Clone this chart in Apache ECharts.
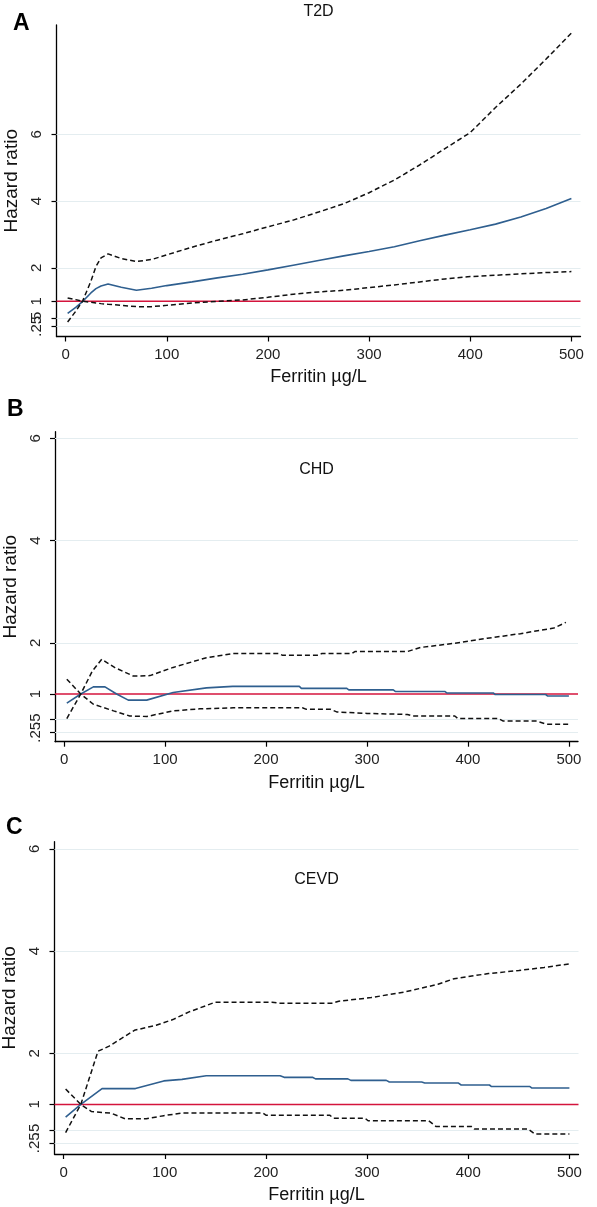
<!DOCTYPE html>
<html>
<head>
<meta charset="utf-8">
<script src="https://cdn.jsdelivr.net/npm/echarts@6/dist/echarts.min.js"></script>
<style>
html,body{margin:0;padding:0;background:#fff;}
#chart{width:597px;height:1207px;}
</style>
</head>
<body>
<div id="chart"></div>
<script>
// ---------- data ----------
const yTicks = [0.25, 0.5, 1, 2, 4, 6];
const yTicksMain = [0.25, 1, 2, 4, 6];   // labels on the main axis
const yTicksExtra = [0.5];               // label drawn on an overlay axis (overlaps ".25" as in the original)
const xTicks = [0, 100, 200, 300, 400, 500];
const panelTitles = ['T2D', 'CHD', 'CEVD'];
const panelLetters = ['A', 'B', 'C'];

// Panel A (T2D)
const xA  = [2,10,17,25,30,35,42,55,70,85,100,125,150,175,200,225,250,275,300,325,350,375,400,425,450,475,500];
const hrA = [0.64,0.82,1.00,1.25,1.38,1.46,1.52,1.42,1.33,1.39,1.47,1.58,1.70,1.81,1.94,2.08,2.22,2.36,2.49,2.63,2.81,2.98,3.14,3.31,3.52,3.78,4.08];
const upA = [0.38,0.70,1.02,1.60,2.04,2.30,2.42,2.28,2.19,2.25,2.39,2.62,2.83,3.02,3.23,3.43,3.67,3.92,4.25,4.63,5.08,5.57,6.05,6.80,7.50,8.25,9.03];
const loA = [1.10,1.05,1.00,0.97,0.95,0.93,0.91,0.88,0.84,0.84,0.88,0.95,1.00,1.04,1.12,1.21,1.28,1.33,1.41,1.49,1.58,1.67,1.74,1.78,1.82,1.86,1.89];

// Panel B (CHD)
const xHrB = [2.7,16.5,29,40.5,52,63.6,81.8,108,141,167,233,235,280,282,326,328,377,379,425,427,477,479,500];
const hrB  = [0.82,1.00,1.14,1.14,1.00,0.88,0.88,1.03,1.12,1.15,1.15,1.11,1.11,1.08,1.08,1.05,1.05,1.02,1.02,0.99,0.99,0.96,0.96];
const xUpB = [2.7,16.5,28,37.3,50,68.6,85,108,141,167,213,216,252,255,285,288,340,353,386,419,452,485,497];
const upB  = [0.52,1.00,1.45,1.68,1.52,1.35,1.36,1.52,1.71,1.79,1.79,1.76,1.76,1.79,1.79,1.83,1.83,1.91,1.99,2.09,2.18,2.29,2.40];
const xLoB = [2.7,16.5,29,49,65,82,108,134.5,167.5,236,240,264,270,300,340,345,387,390,430,435,468,478,500];
const loB  = [1.29,1.00,0.80,0.67,0.57,0.56,0.67,0.71,0.73,0.73,0.70,0.70,0.65,0.62,0.60,0.57,0.57,0.52,0.52,0.47,0.47,0.41,0.41];

// Panel C (CEVD)
const xHrC = [2,17,38,71,99,117,141,214,218,246,249,281,284,319,322,354,357,390,393,421,423,461,463,500];
const hrC  = [0.75,1.00,1.31,1.31,1.46,1.49,1.56,1.56,1.53,1.53,1.50,1.50,1.47,1.47,1.44,1.44,1.42,1.42,1.38,1.38,1.35,1.35,1.32,1.32];
const xUpC = [2,17,26,34,45,58,70,85,91.5,108,124,150,206,213,265,272,304,337,370,386,420,450,475,500];
const upC  = [0.45,1.00,1.55,2.04,2.14,2.30,2.45,2.52,2.55,2.66,2.81,3.00,3.00,2.98,2.98,3.02,3.09,3.20,3.35,3.46,3.56,3.62,3.68,3.75];
const xLoC = [2,17,27.6,46.8,60.7,81.7,99,116.6,197,200,263,267,298,301,361,368,403,406,459,466,500];
const loC  = [1.30,1.00,0.86,0.83,0.72,0.72,0.78,0.83,0.83,0.79,0.79,0.73,0.73,0.68,0.68,0.57,0.57,0.52,0.52,0.42,0.42];

// ---------- layout ----------
const grids = [
  {left: 56.5, top: 25,    width: 524, height: 311.5},
  {left: 55,   top: 431.7, width: 523, height: 310},
  {left: 54.5, top: 841.7, width: 524, height: 312.3}
];
const yRanges = [[-0.054, 9.27], [0.067, 6.13], [0.03, 6.14]];
const titleY = [4, 462, 872];
const letterPos = [[13, 12], [7, 398], [6, 816]];

const pair = (xs, ys) => xs.map((x, i) => [x, ys[i]]);
const panels = [
  {hr: pair(xA, hrA), up: pair(xA, upA), lo: pair(xA, loA)},
  {hr: pair(xHrB, hrB), up: pair(xUpB, upB), lo: pair(xLoB, loB)},
  {hr: pair(xHrC, hrC), up: pair(xUpC, upC), lo: pair(xLoC, loC)}
];

const FONT = 'Liberation Sans, Arial, sans-serif';
const fmtY = v => (v < 1 ? String(v).replace(/^0/, '') : String(v));
const yLabelStyle = {fontFamily: FONT, fontSize: 15, color: '#222', margin: 12, rotate: 90,
                     formatter: fmtY, hideOverlap: false, showMinLabel: true, showMaxLabel: true};

const xAxes = [], yAxes = [], yAxesExtra = [], series = [], titles = [];
grids.forEach((g, i) => {
  xAxes.push({
    type: 'value', gridIndex: i, min: -9, max: 509,
    name: 'Ferritin µg/L', nameLocation: 'middle', nameGap: 32,
    nameTextStyle: {fontFamily: FONT, fontSize: 18, color: '#111'},
    axisLine: {show: true, onZero: false, lineStyle: {color: '#000', width: 1.3}},
    axisTick: {show: true, length: 5, lineStyle: {color: '#000', width: 1.2}, customValues: xTicks},
    axisLabel: {fontFamily: FONT, fontSize: 15, color: '#222', margin: 11, customValues: xTicks,
                hideOverlap: false, showMinLabel: true, showMaxLabel: true},
    splitLine: {show: false}
  });
  yAxes.push({
    type: 'value', gridIndex: i, min: yRanges[i][0], max: yRanges[i][1],
    name: 'Hazard ratio', nameLocation: 'middle', nameGap: 31, nameRotate: 90,
    nameTextStyle: {fontFamily: FONT, fontSize: 19, color: '#111'},
    axisLine: {show: true, onZero: false, lineStyle: {color: '#000', width: 1.3}},
    axisTick: {show: true, length: 5, lineStyle: {color: '#000', width: 1.2}, customValues: yTicks},
    axisLabel: Object.assign({customValues: yTicksMain}, yLabelStyle),
    splitLine: {show: false}
  });
  yAxesExtra.push({
    type: 'value', gridIndex: i, min: yRanges[i][0], max: yRanges[i][1], position: 'left', offset: 0,
    axisLine: {show: false}, axisTick: {show: false},
    axisLabel: Object.assign({customValues: yTicksExtra}, yLabelStyle),
    splitLine: {show: false}
  });
  // grid lines + reference line at 1
  series.push({
    type: 'line', xAxisIndex: i, yAxisIndex: i, silent: true,
    data: [[-9, 1], [509, 1]], symbol: 'none', z: 3,
    lineStyle: {color: '#d4143c', width: 1.5},
    markLine: {
      silent: true, symbol: 'none', z: 1,
      label: {show: false},
      lineStyle: {color: '#e4edf0', width: 1.2, type: 'solid'},
      data: yTicks.filter(v => v !== 1).map(v => ({yAxis: v}))
    }
  });
  const p = panels[i];
  series.push({
    type: 'line', xAxisIndex: i, yAxisIndex: i, data: p.hr, symbol: 'none', z: 4,
    lineStyle: {color: '#2f5f8f', width: 1.6}
  });
  series.push({
    type: 'line', xAxisIndex: i, yAxisIndex: i, data: p.up, symbol: 'none', z: 4,
    lineStyle: {color: '#111', width: 1.5, type: [5, 3]}
  });
  series.push({
    type: 'line', xAxisIndex: i, yAxisIndex: i, data: p.lo, symbol: 'none', z: 4,
    lineStyle: {color: '#111', width: 1.5, type: [5, 3]}
  });
  titles.push({
    text: panelTitles[i], left: g.left + g.width / 2, top: titleY[i], textAlign: 'center', padding: 0,
    textStyle: {fontFamily: FONT, fontSize: 16, fontWeight: 'normal', color: '#111'}
  });
  titles.push({
    text: panelLetters[i], left: letterPos[i][0], top: letterPos[i][1], padding: 0,
    textStyle: {fontFamily: FONT, fontSize: 23, fontWeight: 'bold', color: '#000'}
  });
});

const chart = echarts.init(document.getElementById('chart'), null, {renderer: 'canvas'});
chart.setOption({
  animation: false,
  backgroundColor: '#fff',
  title: titles,
  grid: grids.map(g => ({left: g.left, top: g.top, width: g.width, height: g.height,
                         containLabel: false, outerBoundsMode: 'none'})),
  xAxis: xAxes,
  yAxis: yAxes.concat(yAxesExtra),
  series: series
});
</script>
</body>
</html>
